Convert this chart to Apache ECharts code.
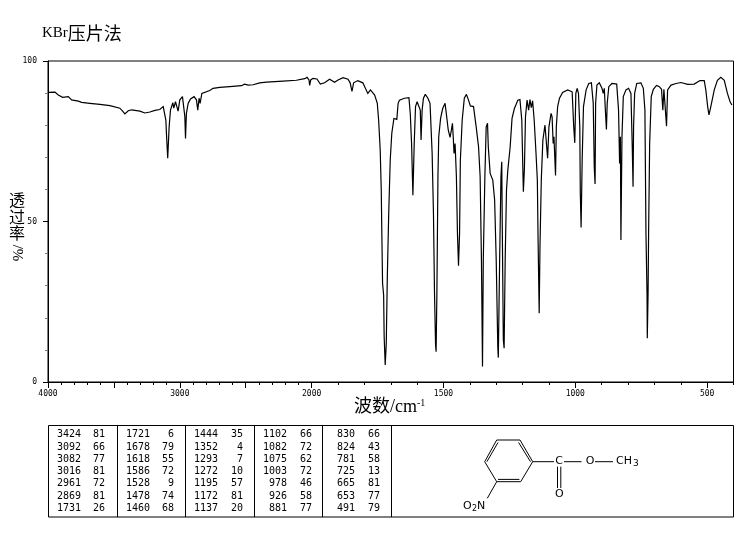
<!DOCTYPE html>
<html><head><meta charset="utf-8">
<script src="https://cdn.jsdelivr.net/npm/echarts@6/dist/echarts.min.js"></script>
<style>html,body{margin:0;padding:0;background:#fff}#c{width:743px;height:539px}</style>
</head><body><div id="c"></div>
<script>
const wavenumbers = [4000,3947,3922,3889,3846,3821,3770,3745,3682,3606,3530,3455,3434,3417,3391,3366,3303,3265,3227,3189,3152,3126,3114,3106,3101,3092,3081,3071,3058,3053,3046,3033,3025,3013,3000,2980,2970,2962,2957,2950,2937,2919,2892,2874,2864,2854,2846,2833,2818,2773,2748,2697,2621,2533,2508,2482,2444,2394,2343,2217,2116,2053,2035,2020,2015,2007,1995,1980,1967,1951,1932,1913,1900,1881,1862,1854,1847,1841,1825,1806,1787,1777,1761,1751,1746,1740,1736,1734,1731,1727,1725,1721,1717,1713,1708,1702,1696,1688,1682,1677,1672,1667,1648,1631,1626,1621,1616,1611,1606,1600,1593,1588,1585,1581,1576,1569,1559,1551,1543,1538,1534,1530,1528,1525,1521,1518,1511,1503,1494,1487,1482,1475,1470,1466,1463,1460,1456,1451,1447,1443,1439,1436,1429,1421,1413,1405,1398,1386,1376,1367,1361,1356,1352,1349,1343,1338,1333,1330,1323,1313,1306,1300,1294,1292,1287,1282,1279,1277,1273,1270,1266,1261,1256,1247,1240,1231,1218,1210,1203,1199,1197,1193,1189,1183,1177,1172,1167,1162,1156,1149,1144,1141,1137,1134,1129,1123,1115,1110,1105,1100,1092,1088,1084,1081,1075,1072,1067,1060,1048,1029,1012,1006,1002,998,993,988,983,981,978,974,969,959,949,939,932,928,925,923,918,909,899,894,890,886,882,879,873,861,843,836,832,829,827,823,818,808,798,789,784,781,779,775,767,751,742,736,732,728,727,724,722,718,712,704,692,681,673,668,664,659,654,650,637,618,599,574,549,527,511,505,498,493,486,473,461,448,435,423,413,406,400];
const transmittance = [90.2,90.3,89.4,88.7,88.9,87.9,87.5,87.1,86.8,86.5,86.1,85.3,84.4,83.5,84.5,84.8,84.4,83.8,84.1,84.6,84.9,85.8,85.8,81.6,77,69.7,79.5,84.7,85.3,87,85.3,87.3,87.3,84.4,87.9,88.9,88.7,82.7,75.9,83.7,86.8,88.2,88.9,87.9,84.7,88.4,86.8,89.9,90.5,90.8,91.5,91.8,92,92.3,92.8,92.5,92.6,93.2,93.4,93.7,94,94.5,94.9,94.1,92.4,94.1,94.6,94.4,92.8,93.2,94.3,93.4,94.1,94.8,94.3,93.2,90.5,93.2,93.9,93.2,89.9,91,89.4,86.8,81.6,72.3,59.8,47.3,30.7,27.1,14.1,5.3,12,32.8,51.5,69.1,77.5,82.1,82.6,81.8,86.8,87.8,88.4,88.6,83.7,74.3,58.2,74.3,85.8,87.3,87.3,84.7,75.4,84.7,88.4,89.6,88.4,86.8,71.2,52.5,27.6,11.5,9.4,27.6,64,76.4,82.1,85.2,86.8,82.1,78.5,76.2,78.5,80.6,76.4,71.2,74.3,64,46.3,36.2,46.3,69.1,81.6,88.4,89.6,87.8,86,85.8,79.5,73.3,64,38,4.8,38,64,79.5,80.6,73.3,65,62.9,56.7,38,11,7.6,38,64,68.6,48.4,13.1,10.5,38,59.8,66,73.3,82.1,85.2,87.8,88,81.6,66.6,59.3,66.6,82.6,87.8,84.7,88,85.5,87.6,81.6,71.2,62.9,43.2,21.4,42.2,62.9,75.4,80,80.6,69.7,79.5,83.7,82.6,74.3,76.4,64.3,79.5,85.8,88.4,90.2,91,90.4,79.5,74.5,89.9,91.5,89.9,79.5,58.8,48.1,69.1,85.8,91,93,93.2,86.8,66.6,61.7,86.8,92.5,93.2,91.5,89.9,91.5,84.7,78.7,86.8,92,93,92.8,84.7,68.1,76.4,44.2,76.4,88.9,91,91.5,89.9,73.3,60.8,79.5,89.9,93,93.2,91.5,84.7,46.3,27.6,13.6,27.6,46.3,74.3,88.9,91.2,92.4,92,91.2,84.7,91.2,91.6,79.7,91,92.5,93,93.3,92.7,92.8,93.9,93.9,91,85.8,83.2,85.8,91,94,94.9,94,89.9,87.3,86.3];

const majorTicks = [4000,3500,3000,2500,2000,1500,1000,500];
const tickLabels = [4000,3000,2000,1500,1000,500];
const minorTicks = [3900,3800,3700,3600,3400,3300,3200,3100,2900,2800,2700,2600,2400,2300,2200,2100,1900,1800,1700,1600,1400,1300,1200,1100,900,800,700,600,400];
const yTicks = [0,50,100];
const title = ['KBr','压片法'];
const xName = ['波数/cm','-1'];
const yNameChars = ['透','过','率'];
const yNameRotated = '/%';

const peakWave = [[3424,3092,3082,3016,2961,2869,1731],[1721,1678,1618,1586,1528,1478,1460],[1444,1352,1293,1272,1195,1172,1137],[1102,1082,1075,1003,978,926,881],[830,824,781,725,665,653,491]];
const peakT = [[81,66,77,81,72,81,26],[6,79,55,72,9,74,68],[35,4,7,10,57,81,20],[66,72,62,72,46,58,77],[66,43,58,13,81,77,79]];

// The wavenumber axis has a scale change at 2000 cm-1: 4000-2000 takes half the scale of 2000-400.
const toAxis = w => w >= 2000 ? (4000 - w) / 2 : 1000 + (2000 - w);
const fromAxis = u => u <= 1000 ? 4000 - u * 2 : 2000 - (u - 1000);
const mono = '"DejaVu Sans Mono", monospace';
const cjk = '"Noto Sans CJK SC", sans-serif';
const serifCjk = '"Liberation Serif", "Noto Sans CJK SC", serif';

const g = [];
const T = (x, y, text, o = {}) => g.push(Object.assign({type:'text', x, y, silent:true, style:Object.assign({text, fill:'#000', font:'10px '+mono, textVerticalAlign:'middle'}, o)}));
const L = (x1, y1, x2, y2, lw = 1) => g.push({type:'line', silent:true, shape:{x1,y1,x2,y2}, style:{stroke:'#000', lineWidth:lw}});

// Title and axis names
g.push({type:'text', x:42, y:33, silent:true, style:{rich:{a:{font:'15px "Liberation Serif"', fill:'#000'}, b:{font:'18px '+cjk, fill:'#000'}}, text:'{a|'+title[0]+'}{b|'+title[1]+'}', textVerticalAlign:'middle'}});
g.push({type:'text', x:354, y:407, silent:true, style:{rich:{a:{font:'18px '+serifCjk, fill:'#000'}, b:{font:'10px "Liberation Serif"', fill:'#000', padding:[0,0,8,0]}}, text:'{a|'+xName[0]+'}{b|'+xName[1]+'}', textVerticalAlign:'middle'}});
yNameChars.forEach((c,i) => T(17, 200 + i * 16.5, c, {font:'16px '+cjk, textAlign:'center'}));
g.push({type:'text', x:17, y:253, rotation:-Math.PI/2, silent:true, style:{text:yNameRotated, font:'15px "Liberation Serif"', fill:'#000', textAlign:'center', textVerticalAlign:'middle'}});

// Peak table
const colX = [48.5,117.5,185.5,254.5,322.5,391.5];
const wRight = [81,150,218,287,355];
const vRight = [105,174,243,312,380];
const rowY = [434.7,447,459.3,471.7,483.7,496.3,508.3];
g.push({type:'rect', silent:true, shape:{x:48.5,y:425.5,width:685,height:91.5}, style:{fill:'none',stroke:'#000',lineWidth:1}});
colX.slice(1).forEach(x => L(x,425.5,x,517));
peakWave.forEach((col,i) => col.forEach((w,j) => {
  T(wRight[i], rowY[j], String(w), {textAlign:'right'});
  T(vRight[i], rowY[j], String(peakT[i][j]), {textAlign:'right'});
}));

// Structure: methyl 3-nitrobenzoate
const ring = [[496.7,440],[520,440],[532.7,461.7],[520.7,481.7],[496.7,481.7],[484.7,461.7]];
ring.forEach((p,i) => { const q = ring[(i+1)%6]; L(p[0],p[1],q[0],q[1]); });
L(486.9,461.7,498,442.5); L(518.6,442.5,530.5,461.7); L(498,479.4,519.4,479.4);
L(532.7,461.7,554,461.7); L(564,461.7,581.5,461.7); L(595,461.7,613,461.7);
L(557.5,466.7,557.5,488); L(560.8,466.7,560.8,488);
L(496.7,481.7,487.3,498.3);
const sf = '11px "DejaVu Sans"';
T(559,461.5,'C',{font:sf,textAlign:'center'});
T(590,461.5,'O',{font:sf,textAlign:'center'});
T(559.3,494.5,'O',{font:sf,textAlign:'center'});
T(616,461.5,'CH',{font:sf,textAlign:'left'});
T(633,464,'3',{font:'9px "DejaVu Sans"',textAlign:'left'});
T(463,506,'O',{font:sf,textAlign:'left'});
T(472,509,'2',{font:'8px "DejaVu Sans"',textAlign:'left'});
T(477,506,'N',{font:sf,textAlign:'left'});

const hiddenAxisBits = {axisLine:{show:false}, splitLine:{show:false}, axisLabel:{show:false}};
const option = {
  animation:false,
  backgroundColor:'#fff',
  grid:{left:48,right:9.5,top:61,bottom:157,show:true,borderColor:'#000',borderWidth:1,backgroundColor:'transparent'},
  xAxis:[
    {type:'value',min:0,max:2600,position:'bottom',splitLine:{show:false},
     axisLine:{show:true,onZero:false,lineStyle:{color:'#000',width:1}},
     axisTick:{show:true,length:6,lineStyle:{color:'#000'},customValues:majorTicks.map(toAxis)},
     axisLabel:{show:true,margin:8,color:'#000',fontFamily:mono,fontSize:8,
       customValues:tickLabels.map(toAxis),formatter:v=>String(Math.round(fromAxis(v))),hideOverlap:false,showMinLabel:true,showMaxLabel:true}},
    {type:'value',min:0,max:2600,position:'bottom',...hiddenAxisBits,
     axisTick:{show:true,length:3,lineStyle:{color:'#000'},customValues:minorTicks.map(toAxis)}}
  ],
  yAxis:{type:'value',min:0,max:100,interval:50,splitLine:{show:false},
    axisLine:{show:true,lineStyle:{color:'#000',width:1}},
    axisTick:{show:true,length:5,lineStyle:{color:'#000'}},
    minorTick:{show:true,splitNumber:5,length:3,lineStyle:{color:'#777'}},
    axisLabel:{margin:11,color:'#000',fontFamily:mono,fontSize:8,customValues:yTicks}},
  series:[{type:'line',xAxisIndex:0,data:wavenumbers.map((w,i)=>[toAxis(w),transmittance[i]]),
    showSymbol:false,symbol:'none',smooth:false,silent:true,lineStyle:{color:'#000',width:1.2,join:'miter',miterLimit:2}}],
  graphic:{elements:g}
};
const chart = echarts.init(document.getElementById('c'),null,{renderer:'canvas',width:743,height:539});
chart.setOption(option);
</script></body></html>
